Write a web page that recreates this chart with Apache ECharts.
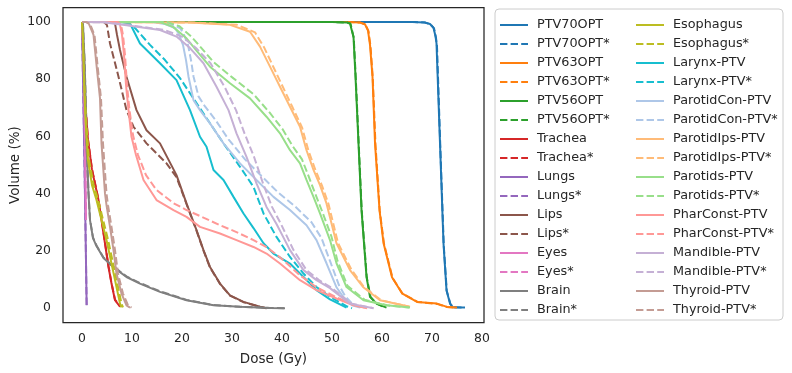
<!DOCTYPE html>
<html>
<head>
<meta charset="utf-8">
<script src="https://cdn.jsdelivr.net/npm/echarts@6/dist/echarts.min.js"></script>
<style>
  html, body { margin: 0; padding: 0; background: #fff; }
  #chart { width: 792px; height: 373px; }
</style>
</head>
<body>
<div id="chart"></div>
<script>
// tick labels
const xTicks = [0, 10, 20, 30, 40, 50, 60, 70, 80];
const yTicks = [0, 20, 40, 60, 80, 100];

// [dose (Gy), volume (%)], * = dashed twin
const ptv70 = [[0, 100], [66, 100], [68.5, 99.8], [69.6, 99.3], [70.3, 98], [70.7, 95], [70.9, 92.5], [71.6, 57.6], [72.3, 22.6], [72.9, 6.3], [73.6, 1.6], [74.2, 0.3], [76.6, 0.2]];
const ptv70s = [[0, 100], [66.5, 100], [68.7, 99.8], [69.7, 99.2], [70.4, 97.8], [70.8, 94.5], [71, 91.5], [71.65, 57], [72.35, 22], [72.95, 6], [73.7, 1.4], [74.3, 0.3], [76.4, 0.2]];
const ptv63 = [[0, 100], [53, 100], [55.6, 99.8], [56.6, 99.2], [57.2, 97], [57.6, 92], [58.1, 80.9], [58.6, 57.7], [59.5, 34.3], [60.3, 22.8], [62, 10.8], [64, 5.2], [67, 2.2], [71, 1.6], [73, 0.45], [75, 0.2]];
const ptv63s = [[0, 100], [53.2, 100], [55.7, 99.8], [56.7, 99.1], [57.3, 96.8], [57.7, 91.5], [58.15, 80.5], [58.7, 57], [59.55, 34], [60.4, 22.5], [62.1, 10.6], [64.1, 5.1], [67.1, 2.2], [71, 1.5], [73, 0.4], [74.8, 0.2]];
const ptv56 = [[0, 100], [50, 100], [53, 99.8], [53.6, 99.5], [54.3, 94.8], [54.7, 80.9], [55.3, 57.6], [55.9, 34.3], [56.9, 11], [57.6, 4], [58.9, 1.6], [60.9, 0.2]];
const ptv56s = [[0, 100], [50.2, 100], [53.1, 99.8], [53.7, 99.4], [54.35, 94.5], [54.75, 80.5], [55.35, 57], [55.95, 34], [56.95, 10.8], [57.7, 3.9], [59, 1.5], [60.7, 0.2]];
const trachea = [[0, 100], [0.2, 90], [0.6, 72.7], [1.2, 58.7], [2, 48.3], [3.3, 37.8], [4.3, 26.1], [5.3, 14.4], [5.9, 8.6], [6.6, 2.8], [7.6, 0.5]];
const tracheas = [[0, 100], [0.2, 90.5], [0.6, 73], [1.2, 59], [2, 48.6], [3.3, 38], [4.3, 26.5], [5.3, 14.7], [5.9, 8.8], [6.6, 3], [7.7, 0.5]];
const lungs = [[0, 100], [0.25, 75], [0.5, 50], [0.75, 22], [0.93, 1]];
const lungss = [[0, 100], [0.25, 75.5], [0.5, 50.5], [0.75, 22.5], [0.93, 1]];
const eyes = [[0, 100], [0.3, 90], [0.5, 70], [0.7, 45], [0.8, 30.8]];
const eyess = [[0, 100], [0.3, 90.3], [0.5, 70.4], [0.7, 45.5], [0.8, 31]];
const lips = [[0, 100], [6, 100], [6.6, 99.5], [7, 95.5], [7.6, 90.2], [8.9, 80.9], [10.9, 69.2], [12.9, 62.2], [15.6, 57.6], [18.9, 46.5], [20.9, 36.6], [22.9, 27.3], [24.3, 20.3], [25.6, 14.4], [27.6, 8.6], [29.6, 4.5], [32.3, 2.2], [35.6, 0.5], [36.9, 0]];
const lipss = [[0, 100], [4.4, 100], [5, 98.9], [5.6, 92.5], [7.3, 80.9], [8.9, 69.2], [10.3, 63.4], [12.9, 57.6], [16.9, 50.6], [18.9, 45.8], [20.9, 36.4], [22.9, 27.1], [24.3, 20.1], [25.6, 14.2], [27.6, 8.5], [29.6, 4.4], [32.3, 2.1], [35.6, 0.5], [36.9, 0]];
const brain = [[0, 100], [0.2, 99], [0.5, 86.7], [0.8, 69.2], [0.9, 57.6], [1.3, 40.1], [1.6, 30.8], [2.2, 24.5], [2.9, 21.7], [4.3, 17.5], [5.6, 15.4], [7.6, 12.6], [8.9, 10.9], [11.6, 8.6], [15.6, 5.7], [20.9, 2.8], [26.3, 1], [31.6, 0.5], [37.6, 0.1], [40.6, 0]];
const brains = [[0, 100], [0.2, 99], [0.5, 86.9], [0.8, 69.4], [0.9, 57.9], [1.3, 40.3], [1.6, 31], [2.2, 24.7], [2.9, 21.9], [4.3, 17.7], [5.6, 15.6], [7.6, 12.8], [8.9, 11.1], [11.6, 8.8], [15.6, 5.9], [20.9, 2.9], [26.3, 1.1], [31.6, 0.5], [37.6, 0.1], [40.4, 0]];
const esophagus = [[0, 100], [0.2, 93.7], [0.4, 79.7], [0.7, 65.7], [1.2, 51.7], [2, 43], [2.9, 37.8], [3.9, 30.8], [4.9, 23.8], [5.9, 15.6], [6.9, 7.4], [7.6, 1.6], [7.9, 0.3]];
const esophaguss = [[0, 100], [0.2, 94], [0.45, 80], [0.8, 66], [1.4, 52], [2.3, 43.3], [3.2, 38], [4.2, 31], [5.2, 24], [6.2, 15.8], [7.2, 7.5], [7.9, 1.6], [8.2, 0.3]];
const larynx = [[0, 100], [7.6, 100], [9.6, 99.5], [11.6, 92.5], [15.6, 85.6], [18.9, 79.7], [21.6, 69.2], [23.6, 59.9], [24.9, 56.4], [26.3, 48.3], [28.3, 44.8], [30.3, 38.9], [32.3, 33.1], [34.3, 28], [36.3, 22.7], [38.3, 19.1], [41.6, 15.6], [44.3, 10.9], [46.9, 6.3], [49.6, 3.1], [52.9, 0.2]];
const larynxs = [[0, 100], [8.6, 100], [10.6, 97.9], [13.6, 92], [16.6, 86.7], [19.6, 80.4], [21.6, 75.1], [25.6, 64.6], [28.3, 57.6], [31.6, 49.4], [34.3, 42.4], [36.3, 33.1], [38.9, 24.9], [41.6, 17.9], [44.3, 12.1], [46.9, 7.4], [49.6, 4], [52.9, 0.7], [54, 0]];
const parotidCon = [[0, 100], [14, 100], [16.6, 99.3], [18.6, 97.9], [19.3, 96], [20.2, 92], [20.8, 86.7], [21.3, 80.9], [22.3, 72.7], [23.6, 69.2], [25.6, 64.6], [28.3, 57.6], [31.6, 50.6], [34.9, 44.8], [38.3, 38.9], [41.6, 34.3], [44.9, 29], [46.9, 23.8], [48.9, 15.7], [50.9, 7.3], [52.3, 3.8], [54, 1], [55.6, 0.2]];
const parotidCons = [[0, 100], [15, 100], [17.6, 99.3], [19.6, 97.9], [20.3, 96], [21.2, 92], [21.8, 86.7], [22.3, 81], [23.3, 74], [24.6, 70.5], [26.6, 66], [29.3, 59], [32.6, 52], [35.9, 46.2], [39.3, 40.3], [42.6, 35.6], [45.9, 30], [47.9, 24.5], [49.6, 16.5], [51.4, 8], [52.7, 4], [54.4, 1], [56, 0.2]];
const parotidIps = [[0, 100], [21.6, 99.8], [29.6, 99], [33.6, 96.6], [35.6, 91.4], [37.6, 84.4], [39.6, 77.4], [41.6, 70.4], [43.6, 63.4], [44.9, 55.2], [46.3, 48.3], [47.6, 43], [48.9, 36.6], [50.9, 22.7], [53.6, 13.3], [56.2, 7.4], [59.6, 2.8], [65.6, 0.5]];
const parotidIpss = [[0, 100], [22.5, 99.8], [31, 99], [34.6, 96.4], [36.4, 91.2], [38.3, 84.2], [40.2, 77.2], [42.1, 70.2], [44, 63.2], [45.3, 55], [46.7, 48.2], [48, 42.8], [49.3, 36.4], [51.2, 22.8], [53.9, 13.4], [56.4, 7.4], [59.8, 2.8], [65.4, 0.5]];
const parotids = [[0, 100], [15.6, 100], [18.2, 98.3], [20.9, 94.3], [22.9, 90], [25.6, 84.4], [29.6, 78.6], [33.6, 73.3], [36.9, 66.9], [39.6, 61.1], [41.6, 55.2], [43.6, 50.6], [44.9, 44.8], [46.3, 38.9], [47.6, 33.1], [49.6, 23.8], [50.9, 15.7], [52.9, 7.4], [56.3, 2.8], [60.9, 1], [65.6, 0.2]];
const parotidss = [[0, 100], [17, 100], [19.5, 98.5], [21.8, 95], [23.6, 91.5], [26.3, 86], [30.3, 80.3], [34.3, 74.8], [37.5, 68.4], [40.1, 62.6], [42.1, 56.7], [44, 52], [45.3, 46.2], [46.6, 40.2], [47.9, 34.4], [49.9, 25], [51.1, 16.5], [53.1, 7.8], [56.5, 3], [61, 1], [65.4, 0.2]];
const pharConst = [[0, 100], [7, 100], [7.6, 99], [8, 95.5], [8.4, 88.5], [8.8, 78], [9.3, 69.2], [9.9, 59.9], [10.8, 53.5], [12.3, 44.8], [14.9, 37.8], [18.3, 34.3], [20.9, 31.9], [23.6, 28.4], [27.6, 26.1], [30.9, 23.8], [34.3, 21.4], [36.9, 19.1], [39.6, 15.6], [43.6, 9.8], [46.9, 6.3], [50.9, 3.4], [54.3, 1], [57, 0]];
const pharConsts = [[0, 100], [7.2, 100], [7.8, 99], [8.2, 95.5], [8.6, 88.5], [9, 78], [9.5, 69.2], [10.2, 60.5], [11.2, 53.5], [12.8, 46.5], [14.9, 41.3], [18.3, 36.7], [20.9, 34.3], [23.6, 32.2], [27.6, 29], [30.9, 26.6], [34.3, 23.8], [36.9, 21.3], [39.6, 17.8], [43.6, 11.5], [46.9, 7.3], [50.9, 3.8], [54.3, 1.2], [57.2, 0]];
const mandible = [[0, 100], [4.2, 99.9], [8.9, 98.9], [15.6, 97.2], [18.9, 94.9], [21.6, 90.9], [24.3, 85.6], [26.9, 77.4], [29.3, 69.2], [30.9, 61.1], [32.9, 52.9], [34.9, 43.6], [36.9, 35.4], [38.9, 29.4], [41.6, 20.3], [44.3, 13.3], [46.9, 9.8], [49.6, 7], [53.6, 1.6], [58.3, 0]];
const mandibles = [[0, 100], [4.5, 99.9], [9.5, 98.9], [16.5, 97.2], [20, 94.9], [22.8, 90.9], [25.7, 85.6], [28.5, 77.4], [30.8, 69.2], [32.5, 61.1], [34.4, 52.9], [36.2, 43.6], [38, 35.4], [39.8, 29.4], [42.3, 20.3], [44.9, 13.3], [47.4, 9.8], [50, 7], [53.9, 1.6], [58.3, 0]];
const thyroid = [[0, 100], [0.8, 100], [1.4, 99.3], [2.3, 95.5], [2.9, 85], [3.6, 73.3], [3.9, 57.6], [4.6, 40.1], [4.9, 36], [5.6, 28.4], [6.3, 20.3], [6.9, 12.1], [7.9, 5.1], [8.9, 1], [9.6, 0.2]];
const thyroids = [[0, 100], [0.9, 100], [1.6, 99.3], [2.5, 95.5], [3.1, 85], [3.8, 73.3], [4.2, 57.6], [4.9, 40.1], [5.2, 36], [5.9, 28.4], [6.6, 20.3], [7.2, 12.1], [8.2, 5.1], [9.2, 1], [9.9, 0.2]];

const curves = [
  ['PTV70OPT', ptv70, ptv70s, '#1f77b4'],
  ['PTV63OPT', ptv63, ptv63s, '#ff7f0e'],
  ['PTV56OPT', ptv56, ptv56s, '#2ca02c'],
  ['Trachea', trachea, tracheas, '#d62728'],
  ['Lungs', lungs, lungss, '#9467bd'],
  ['Lips', lips, lipss, '#8c564b'],
  ['Eyes', eyes, eyess, '#e377c2'],
  ['Brain', brain, brains, '#7f7f7f'],
  ['Esophagus', esophagus, esophaguss, '#bcbd22'],
  ['Larynx-PTV', larynx, larynxs, '#17becf'],
  ['ParotidCon-PTV', parotidCon, parotidCons, '#aec7e8'],
  ['ParotidIps-PTV', parotidIps, parotidIpss, '#ffbb78'],
  ['Parotids-PTV', parotids, parotidss, '#98df8a'],
  ['PharConst-PTV', pharConst, pharConsts, '#ff9896'],
  ['Mandible-PTV', mandible, mandibles, '#c5b0d5'],
  ['Thyroid-PTV', thyroid, thyroids, '#c49c94'],
];

const textColor = '#262626';
const series = [];
const names = [];
curves.forEach(([name, solid, dashed, color]) => {
  [[name, solid, 'solid'], [name + '*', dashed, [7.4, 3.2]]].forEach(([n, d, type]) => {
    names.push(n);
    series.push({
      name: n,
      type: 'line',
      data: d,
      symbol: 'none',
      color: color,
      lineStyle: { color: color, width: 2, type: type },
      emphasis: { disabled: true },
    });
  });
});

const legendBase = {
  orient: 'vertical',
  top: 18,
  padding: 0,
  itemWidth: 28,
  itemHeight: 14,
  itemGap: 5,
  selectedMode: false,
  // line icons only, hide the marker echarts puts on line legend icons
  itemStyle: { color: 'transparent', borderColor: 'transparent', borderWidth: 0, opacity: 0 },
  textStyle: {
    fontFamily: 'DejaVu Sans',
    fontSize: 12.8,
    color: textColor,
    lineHeight: 14,
    padding: [0, 0, 0, 4],
  },
};

const chart = echarts.init(document.getElementById('chart'));
chart.setOption({
  animation: false,
  textStyle: { fontFamily: 'DejaVu Sans' },
  grid: {
    left: 63,
    right: 308,
    top: 7.7,
    bottom: 50.5,
    outerBoundsMode: 'none',
    containLabel: false,
    show: true,
    borderColor: textColor,
    borderWidth: 1.25,
    backgroundColor: 'transparent',
  },
  graphic: [{
    type: 'rect',
    shape: { x: 495, y: 9, width: 288, height: 311, r: 4 },
    style: { fill: '#fff', stroke: '#cccccc', lineWidth: 1 },
    z: 0,
  }],
  legend: [
    Object.assign({}, legendBase, { left: 499, data: names.slice(0, 16) }),
    Object.assign({}, legendBase, { left: 635, data: names.slice(16) }),
  ],
  xAxis: {
    type: 'value',
    min: -3.8,
    max: 80.4,
    name: 'Dose (Gy)',
    nameLocation: 'middle',
    nameGap: 30,
    nameTextStyle: { fontSize: 13.5, color: textColor },
    axisLine: { show: false },
    axisTick: { show: false },
    splitLine: { show: false },
    axisLabel: { customValues: xTicks, fontSize: 12.4, color: textColor, margin: 10 },
  },
  yAxis: {
    type: 'value',
    min: -5,
    max: 105,
    name: 'Volume (%)',
    nameLocation: 'middle',
    nameGap: 41,
    nameMoveOverlap: false,
    nameTextStyle: { fontSize: 13.5, color: textColor },
    axisLine: { show: false },
    axisTick: { show: false },
    splitLine: { show: false },
    axisLabel: { customValues: yTicks, fontSize: 12.4, color: textColor, margin: 12 },
  },
  series: series,
});
</script>
</body>
</html>
